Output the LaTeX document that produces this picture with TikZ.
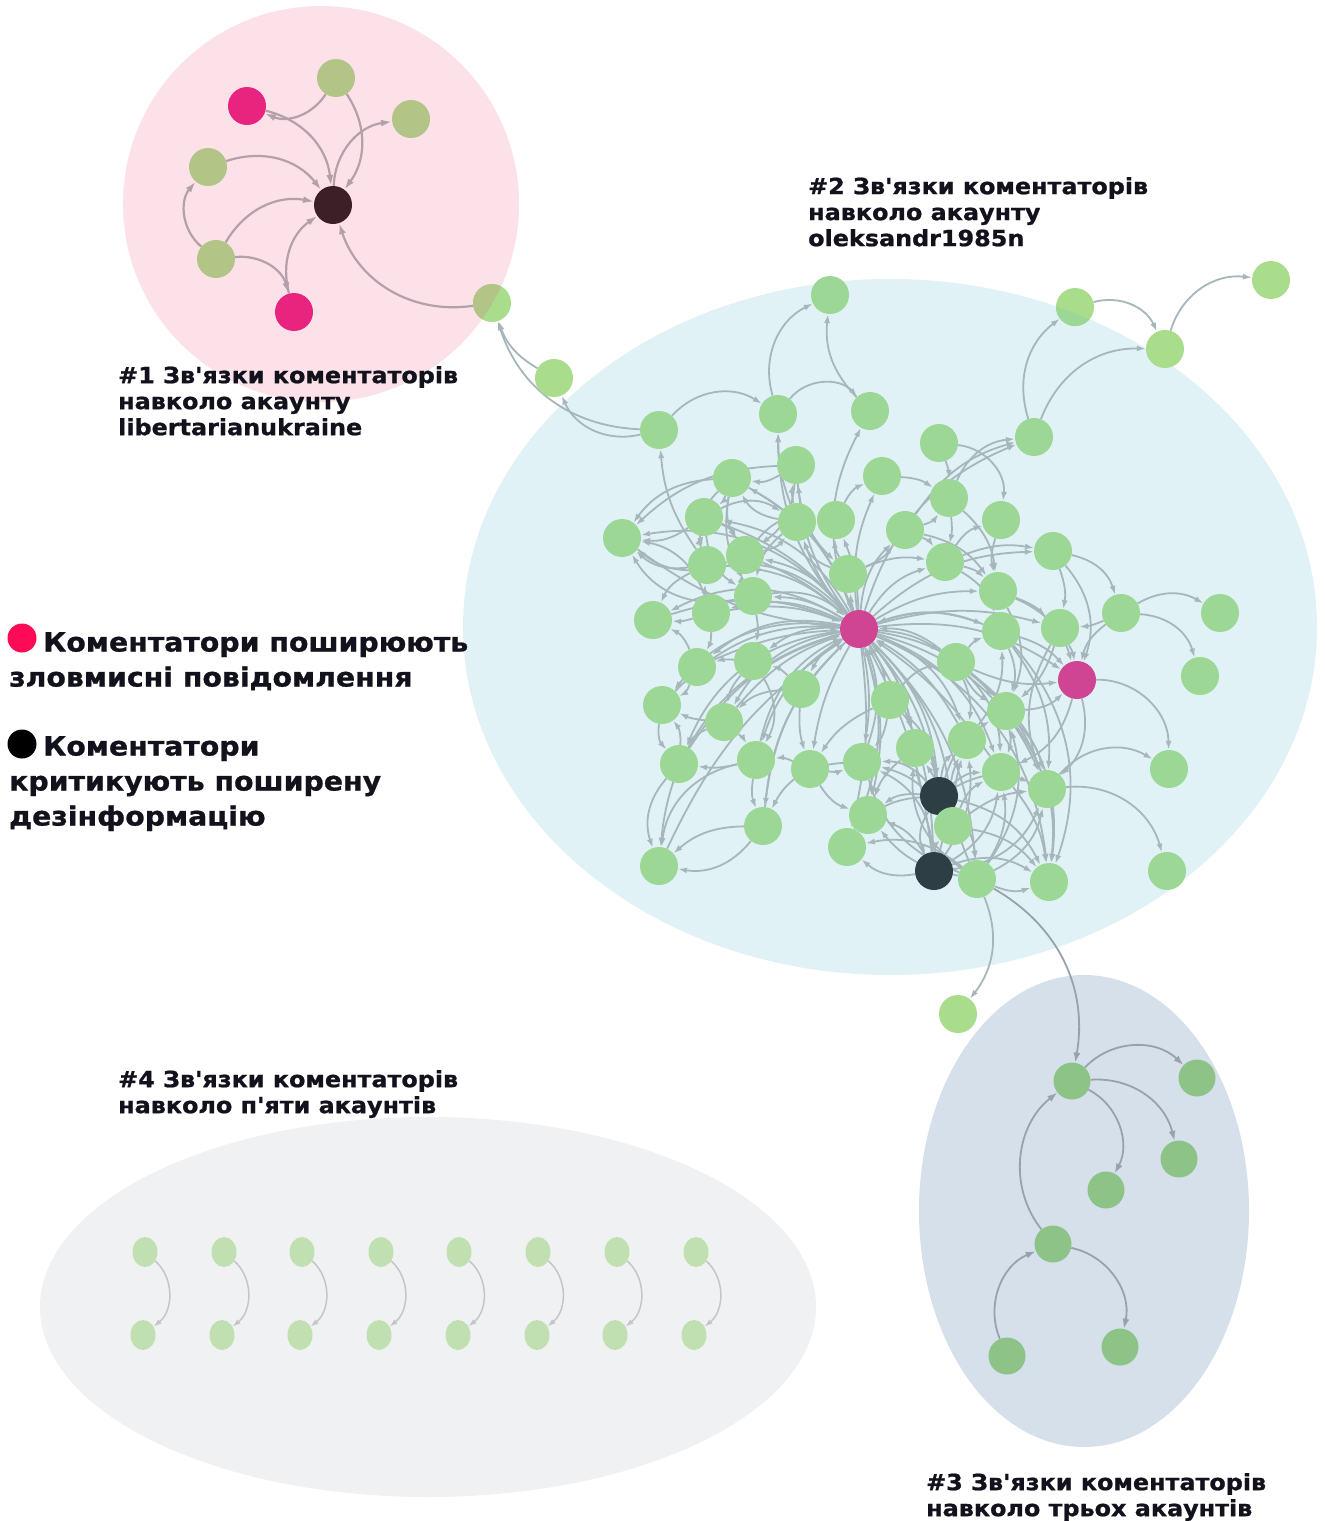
\documentclass[tikz,border=0pt]{standalone}
\usepackage{fontspec}
\newfontfamily\labfont{DejaVu Sans}[FakeStretch=1.07,FakeBold=0.9]
\usetikzlibrary{arrows.meta,shapes.geometric}
\pgfdeclarelayer{bgl}
\pgfdeclarelayer{edgel}
\pgfsetlayers{bgl,edgel,main}
\definecolor{pinkbg}{HTML}{FDE1E8}
\definecolor{bluebg}{HTML}{E0F2F5}
\definecolor{slatebg}{HTML}{D6E0EA}
\definecolor{greybg}{HTML}{F0F1F3}
\definecolor{olivegr}{HTML}{B3C487}
\definecolor{magA}{HTML}{E8247F}
\definecolor{darkA}{HTML}{3D1F28}
\definecolor{edgeA}{HTML}{B4A0A9}
\definecolor{grB}{HTML}{9DD796}
\definecolor{grOut}{HTML}{A9DC8B}
\definecolor{magB}{HTML}{D04494}
\definecolor{darkB}{HTML}{2D3F45}
\definecolor{edgeB}{HTML}{A6B7BC}
\definecolor{grC}{HTML}{8DC387}
\definecolor{edgeC}{HTML}{98A2AC}
\definecolor{grD}{HTML}{C1E0B1}
\definecolor{edgeD}{HTML}{C4C6C6}
\definecolor{legmag}{HTML}{FF0A56}
\definecolor{txt}{HTML}{12121C}
\tikzset{
  nd/.style={circle, inner sep=0pt, minimum size=38pt, draw=none},
  nA/.style={nd, fill=olivegr},
  nB/.style={nd, fill=grB},
  nO/.style={nd, fill=grOut},
  nC/.style={nd, fill=grC, minimum size=37pt},
  nD/.style={shape=ellipse, draw=none, inner sep=0pt, minimum width=25pt, minimum height=30pt, fill=grD},
  eA/.style={draw=edgeA, line width=2.2pt, -{Latex[length=11pt,width=7pt]}},
  eB/.style={draw=edgeB, line width=1.8pt, -{Latex[length=9pt,width=6pt]}},
  eC/.style={draw=edgeC, line width=1.8pt, -{Latex[length=10pt,width=7pt]}},
  eD/.style={draw=edgeD, line width=1.5pt, -{Latex[length=8pt,width=5.5pt]}},
  ttl/.style={anchor=north west, inner sep=0pt, align=left, text=txt,
    font=\labfont\bfseries\fontsize{22.3}{26}\selectfont},
  leg/.style={anchor=north west, inner sep=0pt, align=left, text=txt,
    font=\labfont\bfseries\fontsize{26.5}{35}\selectfont},
  legdot/.style={circle, minimum size=29pt, inner sep=0pt},
}
\begin{document}
\begin{tikzpicture}[x=1pt,y=-1pt]
\useasboundingbox (0,0) rectangle (1325,1521);
\begin{pgfonlayer}{bgl}
\fill[white] (0,0) rectangle (1325,1521);
\fill[pinkbg] (321,204) circle (198);
\fill[bluebg] (890,627) ellipse (427 and 348);
\fill[slatebg] (1084,1211) ellipse (165 and 236);
\fill[greybg] (428,1307) ellipse (388 and 190);
\end{pgfonlayer}

% ---------- cluster 1
\node[nd, fill=magA] (m1) at (247,106) {};
\node[nA] (g1) at (336,78) {};
\node[nA] (g2) at (411,119) {};
\node[nA] (g3) at (208,167) {};
\node[nd, fill=darkA] (k1) at (333,205) {};
\node[nA] (g4) at (216,259) {};
\node[nd, fill=magA] (m2) at (294,312) {};
\node[nO] (br) at (492,303) {};
\begin{scope}
\clip (321,204) circle (198);
\fill[olivegr] (br) circle (19);
\end{scope}

% ---------- cluster 2
\node[nB] (a1) at (830,295) {};
\node[nB] (a2) at (778,414) {};
\node[nB] (a3) at (870,411) {};
\node[nB] (a4) at (659,430) {};
\node[nO] (a5) at (554,378) {};
\node[nO] (a6) at (1075,307) {};
\begin{scope}
\clip (890,627) ellipse (427 and 348);
\fill[grB] (a6) circle (19);
\fill[grB] (a5) circle (19);
\end{scope}
\node[nO] (a7) at (1165,349) {};
\node[nO] (a8) at (1271,280) {};
\node[nB] (a9) at (1034,437) {};
\node[nB] (a10) at (939,443) {};
\node[nB] (a11) at (732,478) {};
\node[nB] (a12) at (796,465) {};
\node[nB] (a13) at (882,476) {};
\node[nB] (a14) at (949,498) {};
\node[nB] (a15) at (1001,520) {};
\node[nB] (a16) at (704,517) {};
\node[nB] (a17) at (797,522) {};
\node[nB] (a18) at (836,520) {};
\node[nB] (a19) at (905,530) {};
\node[nB] (a20) at (622,538) {};
\node[nB] (a21) at (745,555) {};
\node[nB] (a22) at (707,565) {};
\node[nB] (a23) at (848,574) {};
\node[nB] (a24) at (945,562) {};
\node[nB] (a25) at (1053,551) {};
\node[nB] (a26) at (753,596) {};
\node[nB] (a27) at (711,613) {};
\node[nB] (a28) at (653,620) {};
\node[nB] (a29) at (998,591) {};
\node[nB] (a30) at (1001,631) {};
\node[nB] (a31) at (1060,628) {};
\node[nB] (a32) at (1121,613) {};
\node[nB] (a33) at (1220,613) {};
\node[nd, fill=magB] (hub) at (859,629) {};
\node[nd, fill=magB] (mm) at (1077,680) {};
\node[nB] (a34) at (697,667) {};
\node[nB] (a35) at (753,661) {};
\node[nB] (a36) at (956,662) {};
\node[nB] (a37) at (801,689) {};
\node[nB] (a38) at (1200,676) {};
\node[nB] (a39) at (662,705) {};
\node[nB] (a40) at (890,700) {};
\node[nB] (a41) at (724,722) {};
\node[nB] (a42) at (1006,711) {};
\node[nB] (a43) at (967,740) {};
\node[nB] (a44) at (915,748) {};
\node[nB] (a45) at (679,764) {};
\node[nB] (a46) at (756,760) {};
\node[nB] (a47) at (810,769) {};
\node[nB] (a48) at (862,762) {};
\node[nB] (a49) at (1001,772) {};
\node[nB] (a50) at (1047,789) {};
\node[nB] (a51) at (1169,769) {};
\node[nd, fill=darkB] (b1) at (939,796) {};
\node[nB] (a52) at (868,815) {};
\node[nB] (a53) at (953,826) {};
\node[nB] (a54) at (763,826) {};
\node[nB] (a55) at (847,847) {};
\node[nd, fill=darkB] (b2) at (934,871) {};
\node[nB] (a56) at (977,879) {};
\node[nB] (a57) at (1049,882) {};
\node[nB] (a58) at (659,866) {};
\node[nB] (a59) at (1167,871) {};
\node[nO] (a60) at (958,1014) {};

% ---------- cluster 3
\node[nC] (c1) at (1072,1081) {};
\node[nC] (c2) at (1197,1078) {};
\node[nC] (c3) at (1179,1159) {};
\node[nC] (c4) at (1106,1190) {};
\node[nC] (c5) at (1053,1244) {};
\node[nC] (c6) at (1007,1356) {};
\node[nC] (c7) at (1120,1347) {};

% ---------- cluster 4
\foreach \i/\xt/\xb in {1/145/143,2/224/222,3/302/300,4/381/379,5/459/458,6/538/537,7/617/615,8/696/694}{
  \node[nD] (p\i) at (\xt,1252) {};
  \node[nD] (q\i) at (\xb,1335) {};
}

% ---------- edges
\begin{pgfonlayer}{edgel}
\foreach \sa/\ta/\ba in {g1/m1/40, m1/k1/35, g1/k1/35, k1/g2/40, g3/k1/35, g4/g3/45, g4/k1/35, g4/m2/40, m2/k1/35, br/k1/40}
  \draw[eA] (\sa) to[bend left=\ba] (\ta);

\foreach \sa/\ta/\ba in {
 a4/br/35, a5/br/20, a4/a5/40, a4/a2/40, a2/a1/40, a3/a1/25, a2/a3/50, a22/a4/15,
 a17/a2/10, hub/a3/25, a10/a15/45, hub/a9/25, a14/a9/30, a19/a9/20, a9/a6/35, a9/a7/35, a6/a7/40, a7/a8/40,
 a13/a14/15, a10/a14/10, a14/a24/10, a24/a15/20, a18/a13/20, a17/a12/10, a19/a14/-20,
 a32/a33/30, a32/a38/35, mm/a51/45, a50/a51/40, a50/a59/40, a25/a32/30, a56/a60/30,
 hub/a2/20, hub/a11/-20, hub/a12/15, hub/a16/-25, hub/a17/10, hub/a19/20, hub/a20/-30, hub/a21/-20,
 hub/a22/-25, hub/a24/20, hub/a26/-15, hub/a27/-20, hub/a28/-30, hub/a29/15, hub/a30/20, hub/a34/-25,
 hub/a35/-20, hub/a36/15, hub/a37/-15, hub/a39/-30, hub/a40/10, hub/a41/-25, hub/a42/20, hub/a43/25,
 hub/a44/15, hub/a45/-30, hub/a46/-20, hub/a47/-10, hub/a48/10, hub/a49/25, hub/a50/25, hub/a52/15,
 hub/b1/20, hub/a53/20, hub/a55/10, hub/b2/15, hub/a56/20, hub/a57/30, hub/a58/-35, hub/a54/-20,
 hub/mm/20, hub/a31/15, hub/a25/20, hub/a23/5, hub/a13/15, hub/a18/-10,
 a22/hub/20, a16/hub/15, a21/hub/10, a28/hub/20, a39/hub/25, a45/hub/20, a30/hub/-20, a36/hub/-20,
 a44/hub/-15, a48/hub/-20, b1/hub/-15, a43/hub/-15, a49/hub/-10, a27/hub/15, a26/hub/25, a11/hub/20,
 a20/hub/-15, a34/hub/10, a41/hub/15, a46/hub/25, a58/hub/15, a54/hub/20, a55/hub/-20, b2/hub/-10,
 a11/a16/15, a11/a21/-20, a16/a21/20, a16/a17/30, a21/a17/-20, a17/a11/25, a12/a11/20, a26/a21/20,
 a22/a16/15, a27/a22/10, a11/a22/-30, a16/a26/-25, a17/a26/-20, a23/a18/15, a23/a17/25,
 a21/a18/30, a12/a23/-20, a12/a21/25, a11/a26/-20,
 a16/a20/20, a22/a20/25, a21/a20/30, a27/a20/-30, a26/a20/35, a11/a20/-25, a12/a20/-20,
 a27/a28/10, a22/a28/-20, a34/a28/-20, a27/a34/15, a35/a34/-10, a26/a35/10, a34/a39/20, a41/a39/10,
 a35/a41/-15, a37/a35/-15, a37/a41/-20, a41/a46/10, a46/a45/10, a41/a45/-20, a39/a45/-25, a45/a58/-30,
 a46/a58/-35, a54/a58/-20, a54/a58/30, a46/a54/-15, a48/a54/-30, a47/a46/-15, a35/a46/30, a37/a47/-10,
 a40/a47/-15, a47/a48/-15, a40/a48/15, a45/a39/-20,
 b1/a43/20, b1/a44/-20, b1/a48/-25, b1/a49/20, b1/a50/25, b1/a52/-20, b1/a55/-25, b1/a56/20,
 b1/a57/25, b1/a42/20, b1/b2/-30, b1/a40/-20,
 b2/a52/-20, b2/a53/20, b2/a55/25, b2/a57/25, b2/a48/-30, b2/a44/-25, b2/a50/-30, b2/a49/-25, b2/a43/-20,
 a56/a52/20, a56/a55/-25, a56/a44/30, a56/a48/25, a56/a49/-20, a56/a50/-25, a56/a43/20, a56/a42/-25, a56/a57/-20,
 a53/a44/20, a53/a48/-20, a53/a49/20, a53/a43/15, a53/a57/20, a53/a50/15,
 a42/a57/20, a49/a57/15, a30/a57/30, a36/a57/30,
 a42/a50/15, a31/a50/-25, a30/a50/20, a36/a50/15,
 a36/a43/15, a36/a49/20, a42/a49/15, a30/a42/20, a31/a42/15, a29/a42/25, a36/a42/-15,
 a40/a44/15, a48/a52/15, a47/a52/-20, a44/a52/-15,
 a30/mm/15, a31/mm/10, a29/mm/25, a36/mm/-15, a42/mm/-20, a25/mm/30, a32/mm/-20, mm/a49/25, mm/a50/30,
 a25/a31/15, a29/a31/10, a24/a29/15, a24/a30/20, a19/a24/15, a19/a29/20, a24/a25/15, a32/a31/10,
 a36/a30/15, a14/a29/20, a15/a29/-15, a23/a19/-15, a23/a24/15, a40/a36/20, a43/a30/-20
}
  \draw[eB] (\sa) to[bend left=\ba] (\ta);

\draw[eC] (a56) to[bend left=35] (c1);
\foreach \sa/\ta/\ba in {c1/c2/45, c1/c3/40, c1/c4/45, c5/c1/45, c5/c7/45, c6/c5/45}
  \draw[eC] (\sa) to[bend left=\ba] (\ta);

\foreach \i in {1,...,8}
  \draw[eD] (p\i) to[bend left=50] (q\i);
\end{pgfonlayer}

% ---------- labels
\node[ttl] (t1) at (118,366) {\#1 Зв'язки коментаторів\\навколо акаунту\\libertarianukraine};
\node[ttl] (t2) at (808,177) {\#2 Зв'язки коментаторів\\навколо акаунту\\oleksandr1985n};
\node[ttl] (t4) at (118,1070) {\#4 Зв'язки коментаторів\\навколо п'яти акаунтів};
\node[ttl] (t3) at (926,1473) {\#3 Зв'язки коментаторів\\навколо трьох акаунтів};

\node[legdot, fill=legmag] (dm) at (22,638) {};
\node[legdot, fill=black] (dk) at (22,744) {};
\node[leg] (l1) at (9,632) {\hspace*{34pt}Коментатори поширюють\\зловмисні повідомлення};
\node[leg] (l2) at (9,736) {\hspace*{34pt}Коментатори\\критикують поширену\\дезінформацію};
\end{tikzpicture}
\end{document}
